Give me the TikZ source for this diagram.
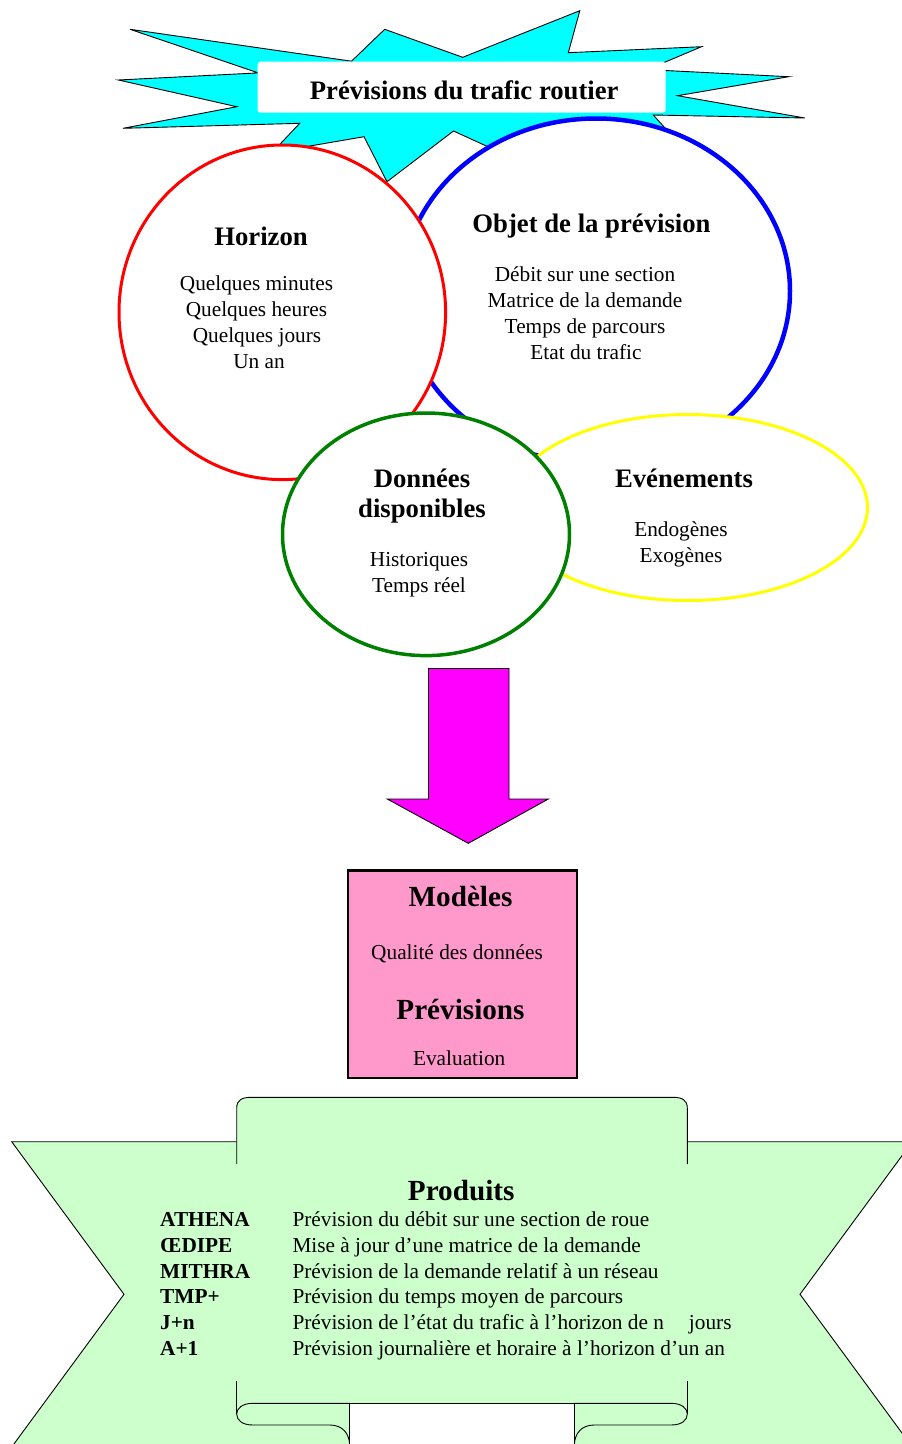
\documentclass[tikz,border=0pt]{standalone}
\usepackage{fontspec}
\setmainfont{Liberation Serif}
\usetikzlibrary{shapes.geometric}
\definecolor{starcyan}{RGB}{0,255,255}
\definecolor{ringred}{RGB}{255,0,0}
\definecolor{ringblue}{RGB}{0,0,255}
\definecolor{ringgreen}{RGB}{0,128,0}
\definecolor{ringyellow}{RGB}{255,255,0}
\definecolor{arrowmag}{RGB}{255,0,255}
\definecolor{pinkbox}{RGB}{255,153,204}
\definecolor{ribbongreen}{RGB}{204,255,204}
\begin{document}
\begin{tikzpicture}[x=1pt,y=-1pt,
  txt/.style={inner sep=0pt, anchor=base, font=\fontsize{21.3}{26}\selectfont},
  head/.style={inner sep=0pt, anchor=base, font=\fontsize{26.7}{30}\selectfont\bfseries},
  big/.style={inner sep=0pt, anchor=base, font=\fontsize{29.2}{34}\selectfont\bfseries},
  lcol/.style={inner sep=0pt, anchor=base west, font=\fontsize{21.3}{26}\selectfont\bfseries},
  rcol/.style={inner sep=0pt, anchor=base west, font=\fontsize{21.3}{26}\selectfont},
  ring/.style={ellipse, fill=white, inner sep=0pt},
  thinline/.style={draw=black, line width=0.9pt, line join=miter},
]
\useasboundingbox (0,0) rectangle (902,1444);
\clip (0,0) rectangle (902,1444);

% starburst
\draw[thinline, fill=starcyan]
  (130,29.3) -- (351.5,61.2) -- (384.7,29.3) -- (462.7,57.3) -- (579.8,10.7)
  -- (568.3,52.7) -- (701.5,46.7) -- (647.4,69.6) -- (788.7,76.7) -- (677.6,95.7)
  -- (804.8,118) -- (653.3,115) -- (684.8,150.1) -- (600,190) -- (520,161.4)
  -- (453.5,131) -- (387,181.7) -- (364,136.7) -- (272.2,152.5) -- (299.7,123.3)
  -- (123,128.3) -- (236.8,106.7) -- (118.4,80) -- (258.3,72.9) -- cycle;

% title box
\node[fill=white, rounded corners=3pt, minimum width=408.2pt, minimum height=51pt, inner sep=0pt] (titlebox) at (461.6,87.2) {};
\node[head] (title) at (464.2,99.3) {Prévisions du trafic routier};

% rings
\node[ring, draw=ringblue, line width=4.5pt, minimum width=388pt, minimum height=345pt] (objet) at (596,291) {};
\node[ring, draw=ringred, line width=3pt, minimum width=326.6pt, minimum height=334.6pt] (horizon) at (282.3,312.3) {};
\node[ring, draw=ringyellow, line width=3pt, minimum width=359.6pt, minimum height=186pt] (evts) at (687.7,507.5) {};
\node[ring, draw=ringgreen, line width=3.5pt, minimum width=287pt, minimum height=242.6pt] (donnees) at (426,534.3) {};

% Horizon texts
\node[head] (h0) at (261,245) {Horizon};
\node[txt] (h1) at (256.5,290.7) {Quelques minutes};
\node[txt] (h2) at (256.5,316.7) {Quelques heures};
\node[txt] (h3) at (257,342.7) {Quelques jours};
\node[txt] (h4) at (259,368.7) {Un an};

% Objet texts
\node[head] (o0) at (591.5,232) {Objet de la prévision};
\node[txt] (o1) at (585,281) {Débit sur une section};
\node[txt] (o2) at (585,307) {Matrice de la demande};
\node[txt] (o3) at (585,333) {Temps de parcours};
\node[txt] (o4) at (586,359) {Etat du trafic};

% Donnees texts
\node[head] (d0) at (422,487.5) {Données};
\node[head] (d1) at (422,517.5) {disponibles};
\node[txt] (d2) at (419,566.5) {Historiques};
\node[txt] (d3) at (419,592.5) {Temps réel};

% Evenements texts
\node[head] (e0) at (684,487.5) {Evénements};
\node[txt] (e1) at (681,536.5) {Endogènes};
\node[txt] (e2) at (681,562.5) {Exogènes};

% block arrow
\draw[thinline, fill=arrowmag]
  (428.5,668.5) -- (509,668.5) -- (509,799) -- (548.3,799) -- (468.3,843.3)
  -- (387.3,799) -- (428.5,799) -- cycle;

% Modeles box
\node[draw=black, line width=2.7pt, fill=pinkbox, minimum width=229pt, minimum height=207.4pt, inner sep=0pt] (modeles) at (462.5,974.3) {};
\node[big] (m0) at (460.5,906.7) {Modèles};
\node[txt] (m1) at (457,959.3) {Qualité des données};
\node[big] (m2) at (460.5,1019.3) {Prévisions};
\node[txt] (m3) at (459.2,1065) {Evaluation};

% ribbon fill
\fill[ribbongreen]
  (11.7,1141.7) -- (236.7,1141.7) -- (236.7,1108)
  .. controls (236.7,1100) and (242,1097.3) .. (251,1097.3) -- (673,1097.3)
  .. controls (682,1097.3) and (687.3,1100) .. (687.3,1108)
  -- (687.3,1141.7) -- (912.3,1141.7) -- (800,1294.3) -- (912.3,1447)
  -- (574.3,1447) -- (574.3,1403.3) -- (349.7,1403.3) -- (349.7,1447)
  -- (11.7,1447) -- (124,1294.3) -- cycle;
% ribbon outlines
\draw[thinline] (236.7,1141.7) -- (11.7,1141.7) -- (124,1294.3) -- (11.7,1447);
\draw[thinline] (687.3,1141.7) -- (912.3,1141.7) -- (800,1294.3) -- (912.3,1447);
\draw[thinline] (236.7,1164) -- (236.7,1108)
  .. controls (236.7,1100) and (242,1097.3) .. (251,1097.3) -- (673,1097.3)
  .. controls (682,1097.3) and (687.3,1100) .. (687.3,1108) -- (687.3,1164);
\draw[thinline] (236.7,1381) -- (236.7,1414);
\draw[thinline] (687.3,1381) -- (687.3,1414);
\draw[thinline] (349.7,1447) -- (349.7,1403.3) -- (574.3,1403.3) -- (574.3,1447);
\draw[thinline] (349.7,1403.3) -- (253,1403.3)
  .. controls (242,1403.3) and (236.7,1408.5) .. (236.7,1414)
  .. controls (236.7,1420) and (242,1425) .. (253,1425) -- (330,1425)
  .. controls (342,1425) and (349.7,1433) .. (349.7,1446);
\draw[thinline] (574.3,1403.3) -- (671,1403.3)
  .. controls (682,1403.3) and (687.3,1408.5) .. (687.3,1414)
  .. controls (687.3,1420) and (682,1425) .. (671,1425) -- (594,1425)
  .. controls (582,1425) and (574.3,1433) .. (574.3,1446);

% ribbon texts
\node[big] (p0) at (461.2,1200) {Produits};
\node[lcol] (a1) at (160,1226.7) {ATHENA};
\node[lcol] (a2) at (160,1252.7) {ŒDIPE};
\node[lcol] (a3) at (160,1278.3) {MITHRA};
\node[lcol] (a4) at (160,1303.8) {TMP+};
\node[lcol] (a5) at (160,1329.3) {J+n};
\node[lcol] (a6) at (160,1355) {A+1};
\node[rcol] (b1) at (292.3,1226.7) {Prévision du débit sur une section de roue};
\node[rcol] (b2) at (292.3,1252.7) {Mise à jour d’une matrice de la demande};
\node[rcol] (b3) at (292.3,1278.3) {Prévision de la demande relatif à un réseau};
\node[rcol] (b4) at (292.3,1303.8) {Prévision du temps moyen de parcours};
\node[rcol] (b5) at (292.3,1329.3) {Prévision de l’état du trafic à l’horizon de n\hspace{25pt}jours};
\node[rcol] (b6) at (292.3,1355) {Prévision journalière et horaire à l’horizon d’un an};
\end{tikzpicture}
\end{document}
